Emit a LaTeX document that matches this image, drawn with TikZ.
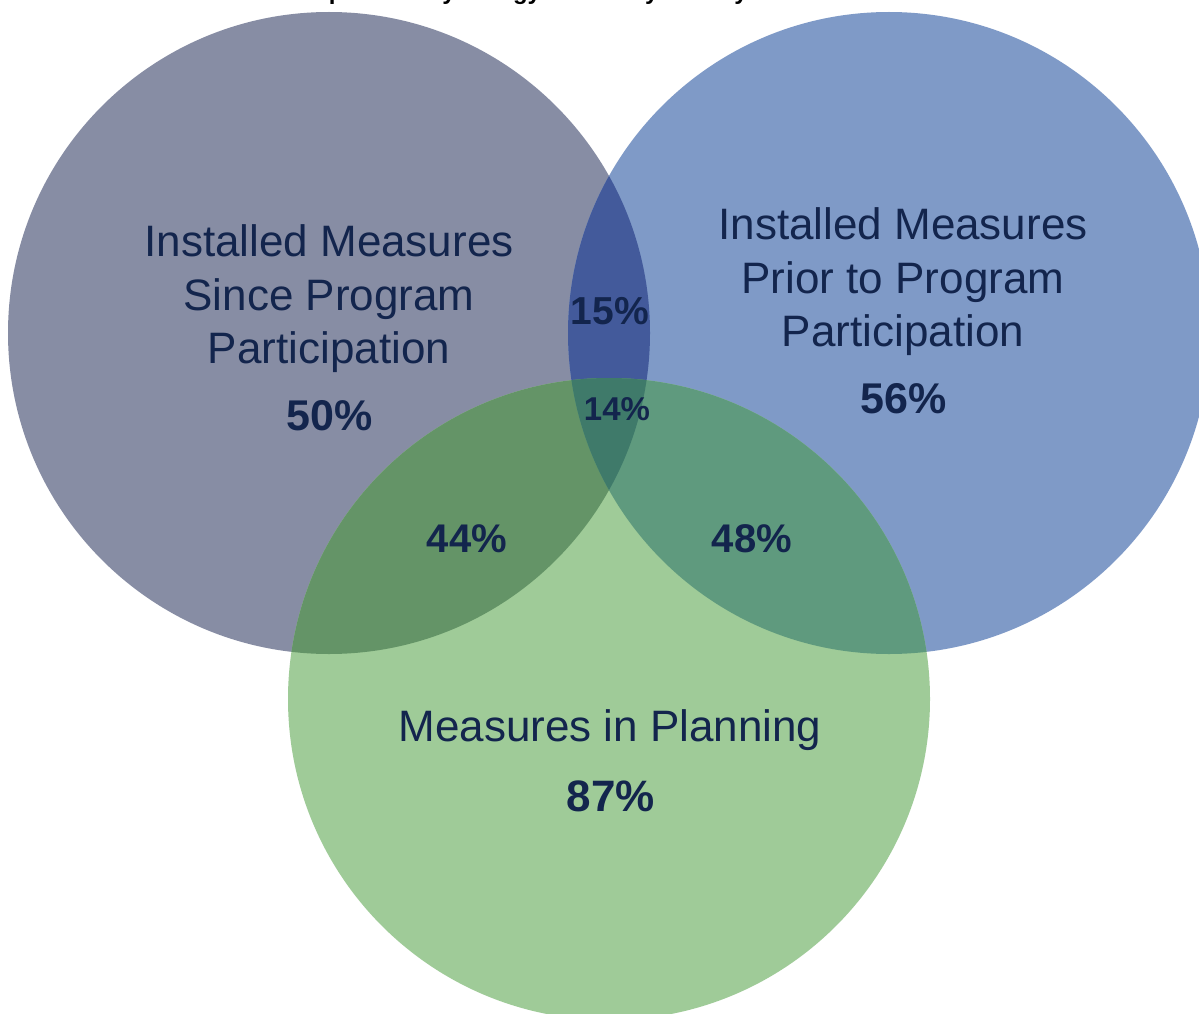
\documentclass[tikz,border=0pt]{standalone}
\usepackage{fontspec}
\setmainfont{Liberation Sans}
\definecolor{cLeft}{HTML}{878DA4}
\definecolor{cRight}{HTML}{7F9AC7}
\definecolor{cBottom}{HTML}{9FCB98}
\definecolor{cLR}{HTML}{435A9B}
\definecolor{cLB}{HTML}{649467}
\definecolor{cRB}{HTML}{5F9A7E}
\definecolor{cAll}{HTML}{3F7A6A}
\definecolor{ink}{HTML}{13254D}
\begin{document}
\begin{tikzpicture}[x=1pt,y=-1pt,
  setlabel/.style={text=ink,align=center,inner sep=0pt,
    font=\fontsize{44}{53.5}\selectfont},
  pct/.style={text=ink,inner sep=0pt,font=\fontsize{43}{50}\selectfont\bfseries},
  smallpct/.style={text=ink,inner sep=0pt,font=\fontsize{39}{46}\selectfont\bfseries}]
\useasboundingbox (0,0) rectangle (1199,1014);
\clip (0,0) rectangle (1199,1014);
\fill[white] (0,0) rectangle (1199,1014);

% caption line, cut off at the top edge
\node[anchor=base east,inner sep=0pt,font=\fontsize{24}{28}\selectfont\bfseries] (caption)
  at (748,-0.5) {Exhibit 6. Measures installed or planned by energy efficiency activity};

% circle centres
\coordinate (L) at (329,333);
\coordinate (R) at (889,333);
\coordinate (B) at (609,699);
\def\rad{321pt}

% single-set areas
\fill[cLeft] (L) circle[radius=\rad];
\fill[cRight] (R) circle[radius=\rad];
\fill[cBottom] (B) circle[radius=\rad];

% pairwise overlaps
\begin{scope}
  \clip (L) circle[radius=\rad];
  \fill[cLR] (R) circle[radius=\rad];
\end{scope}
\begin{scope}
  \clip (L) circle[radius=\rad];
  \fill[cLB] (B) circle[radius=\rad];
\end{scope}
\begin{scope}
  \clip (R) circle[radius=\rad];
  \fill[cRB] (B) circle[radius=\rad];
\end{scope}
% triple overlap
\begin{scope}
  \clip (L) circle[radius=\rad];
  \clip (R) circle[radius=\rad];
  \fill[cAll] (B) circle[radius=\rad];
\end{scope}

% labels
\node[setlabel] (since) at (329,299) {Installed Measures\\Since Program\\Participation};
\node[pct] (since-p) at (330,416) {50\%};
\node[setlabel] (prior) at (903,282) {Installed Measures\\Prior to Program\\Participation};
\node[pct] (prior-p) at (904,399) {56\%};
\node[setlabel] (plan) at (610,730) {Measures in Planning};
\node[pct,font=\fontsize{44}{50}\selectfont\bfseries] (plan-p) at (611,796) {87\%};

\node[smallpct] (lr) at (610,311) {15\%};
\node[smallpct,font=\fontsize{33}{40}\selectfont\bfseries] (all) at (617,409) {14\%};
\node[smallpct,font=\fontsize{40}{46}\selectfont\bfseries] (lb) at (467,539) {44\%};
\node[smallpct,font=\fontsize{40}{46}\selectfont\bfseries] (rb) at (752,539) {48\%};
\end{tikzpicture}
\end{document}
